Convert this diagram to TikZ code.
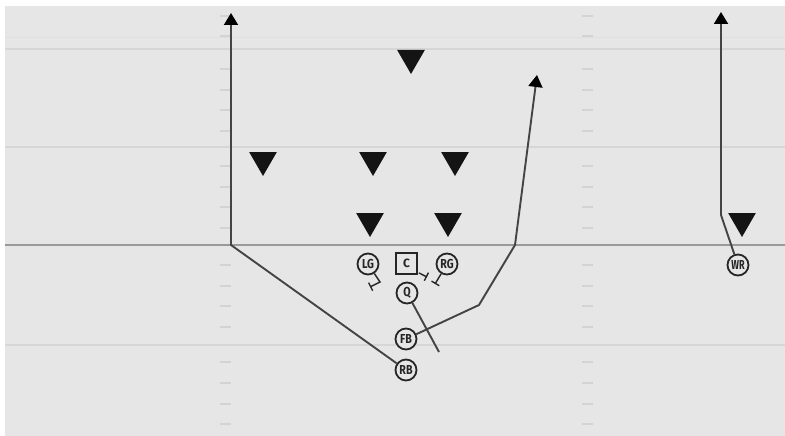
\documentclass[tikz,border=0pt]{standalone}
\usepackage{fontspec}
\setsansfont{Fira Sans}
\usetikzlibrary{arrows.meta,shapes.geometric}
\definecolor{bg}{HTML}{E6E6E6}
\definecolor{fieldline}{HTML}{D6D6D6}
\definecolor{scrim}{HTML}{999999}
\definecolor{hashc}{HTML}{D3D3D3}
\definecolor{routec}{HTML}{444444}
\definecolor{playerc}{HTML}{262626}
\newcommand{\plab}[1]{\scalebox{0.82}[1]{#1}}
\tikzset{
  player/.style={circle,draw=playerc,line width=1.8pt,fill=bg,minimum size=21pt,inner sep=0pt,
    font=\sffamily\bfseries\fontsize{13}{13}\selectfont,text=playerc},
  center/.style={rectangle,draw=playerc,line width=1.8pt,fill=bg,minimum size=21pt,inner sep=0pt,
    font=\sffamily\bfseries\fontsize{12}{12}\selectfont,text=playerc},
  defender/.style={regular polygon,regular polygon sides=3,shape border rotate=180,
    fill=black!92,inner sep=0pt,minimum size=32pt},
  route/.style={draw=routec,line width=1.9pt,line join=miter},
  routetip/.style={route,-{Triangle[width=14pt,length=12pt,color=black]}},
  blockline/.style={draw=playerc,line width=1.4pt,-{Bar[width=9pt,line width=1.4pt]}},
  fieldln/.style={draw=fieldline,line width=1.2pt},
  hash/.style={draw=hashc,line width=1.2pt},
}
\begin{document}
\begin{tikzpicture}[x=1pt,y=-1pt]
\useasboundingbox (0,0) rectangle (785,436);
\fill[white] (0,0) rectangle (785,436);
\fill[bg] (5,6) rectangle (785,436);
% yard lines
\draw[draw=fieldline!45!bg,line width=1pt] (5,38) -- (785,38);
\foreach \y in {49,147,345} \draw[fieldln] (5,\y) -- (785,\y);
\draw[draw=scrim,line width=1.5pt] (5,245) -- (785,245);
% hash marks
\foreach \y in {16,36,69,90,110,131,166,187,207,228,265,286,306,327,362,383,404,424}{
  \draw[hash] (220,\y) -- (231,\y);
  \draw[hash] (582,\y) -- (593,\y);
}
% defenders
\node[defender] (d1) at (411,58) {};
\node[defender] (d2) at (263,160) {};
\node[defender] (d3) at (373,160) {};
\node[defender] (d4) at (455,160) {};
\node[defender] (d5) at (370,221) {};
\node[defender] (d6) at (448,221) {};
\node[defender] (d7) at (742,221) {};
% route coordinates
\coordinate (rb1) at (231,245);
\coordinate (rb2) at (231,13);
\coordinate (fb1) at (479,305);
\coordinate (fb2) at (515,245);
\coordinate (fb3) at (537,75);
\coordinate (q1) at (439,352);
\coordinate (wr1) at (721,215);
\coordinate (wr2) at (721,12);
\coordinate (lgb1) at (380,282);
\coordinate (lgb2) at (370,287);
\coordinate (cb1) at (427,277);
\coordinate (rgb1) at (435,284);
% offense
\node[player] (LG) at (368,264) {\plab{LG}};
\node[center] (C) at (406.5,263.5) {C};
\node[player] (RG) at (447,264) {\plab{RG}};
\node[player] (Q) at (407,293) {\plab{Q}};
\node[player] (FB) at (406,339) {\plab{FB}};
\node[player] (RB) at (406,370) {\plab{RB}};
\node[player] (WR) at (738,265) {\scalebox{0.7}[1]{WR}};
% routes
\draw[routetip] (RB) -- (rb1) -- (rb2);
\draw[routetip] (FB) -- (fb1) -- (fb2) -- (fb3);
\draw[route] (Q) -- (q1);
\draw[routetip] (WR) -- (wr1) -- (wr2);
% blocks
\draw[blockline] (LG) -- (lgb1) -- (lgb2);
\draw[blockline] (C.south east) ++(1,-2) -- (cb1);
\draw[blockline] (RG) -- (rgb1);
\end{tikzpicture}
\end{document}
